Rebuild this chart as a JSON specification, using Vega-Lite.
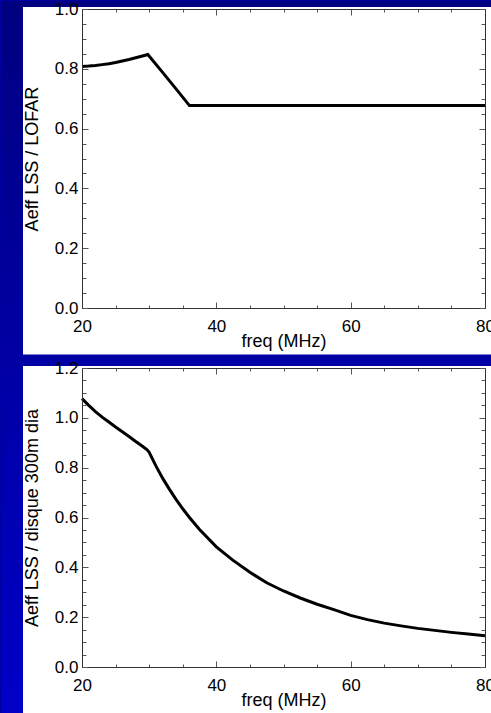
{
  "$schema": "https://vega.github.io/schema/vega-lite/v6.json",
  "padding": 0,
  "background": "#0000a0",
  "bounds": "flush",
  "spacing": 60,
  "datasets": {
    "top": [
      {"f": 20, "v": 0.808}, {"f": 21, "v": 0.809}, {"f": 22, "v": 0.811}, {"f": 23, "v": 0.814},
      {"f": 24, "v": 0.817}, {"f": 25, "v": 0.821}, {"f": 26, "v": 0.826}, {"f": 27, "v": 0.831},
      {"f": 28, "v": 0.837}, {"f": 29, "v": 0.843}, {"f": 29.8, "v": 0.848}, {"f": 32, "v": 0.788},
      {"f": 34, "v": 0.733}, {"f": 36, "v": 0.677}, {"f": 50, "v": 0.677}, {"f": 65, "v": 0.677},
      {"f": 80, "v": 0.677}
    ],
    "bottom": [
      {"f": 20, "v": 1.077}, {"f": 21, "v": 1.05}, {"f": 22, "v": 1.025}, {"f": 23, "v": 1.003},
      {"f": 24, "v": 0.983}, {"f": 25, "v": 0.963}, {"f": 26, "v": 0.944}, {"f": 27, "v": 0.925},
      {"f": 28, "v": 0.905}, {"f": 29, "v": 0.886}, {"f": 29.7, "v": 0.872}, {"f": 30, "v": 0.862},
      {"f": 31, "v": 0.807}, {"f": 32, "v": 0.758}, {"f": 33, "v": 0.714}, {"f": 34, "v": 0.673},
      {"f": 35, "v": 0.635}, {"f": 36, "v": 0.6}, {"f": 37.5, "v": 0.552}, {"f": 40, "v": 0.482},
      {"f": 42.5, "v": 0.428}, {"f": 45, "v": 0.38}, {"f": 47.5, "v": 0.338}, {"f": 50, "v": 0.305},
      {"f": 52.5, "v": 0.277}, {"f": 55, "v": 0.252}, {"f": 57.5, "v": 0.23}, {"f": 60, "v": 0.207},
      {"f": 62.5, "v": 0.19}, {"f": 65, "v": 0.176}, {"f": 67.5, "v": 0.165}, {"f": 70, "v": 0.155},
      {"f": 72.5, "v": 0.147}, {"f": 75, "v": 0.139}, {"f": 77.5, "v": 0.132}, {"f": 80, "v": 0.125}
    ]
  },
  "vconcat": [
    {
      "width": 403,
      "height": 299,
      "resolve": {"axis": {"x": "independent", "y": "independent"}},
      "layer": [
        {
          "data": {"values": [{}]},
          "mark": {"type": "rect", "stroke": null, "fill": {"gradient": "linear", "x1": 0, "y1": 0, "x2": 0, "y2": 1, "stops": [{"offset": 0, "color": "#000080"}, {"offset": 1, "color": "#0000c8"}]}},
          "encoding": {
            "x": {"datum": 7.94, "type": "quantitative", "axis": null},
            "x2": {"datum": 81.04},
            "y": {"datum": 1.02676, "type": "quantitative", "axis": null},
            "y2": {"datum": -1.3579}
          }
        },
        {
          "data": {"values": [{}]},
          "mark": {"type": "rect", "fill": "#ffffff", "stroke": null},
          "encoding": {
            "x": {"datum": 11.216, "type": "quantitative", "axis": null},
            "x2": {"datum": 81.04},
            "y": {"datum": 1.00669, "type": "quantitative", "axis": null},
            "y2": {"datum": -0.1555}
          }
        },
        {
          "data": {"name": "top"},
          "mark": {"type": "line", "color": "#000000", "strokeWidth": 3},
          "encoding": {
            "x": {"field": "f", "type": "quantitative", "sort": null,
              "scale": {"domain": [20, 80], "nice": false, "zero": false},
              "axis": {"orient": "bottom", "zindex": 1, "values": [20,25,30,35,40,45,50,55,60,65,70,75,80],
                "labelExpr": "datum.value % 20 === 0 ? datum.label : ''",
                "tickSize": {"condition": {"test": "datum.value % 20 === 0", "value": -6}, "value": -3},
                "labelPadding": 16, "labelFlush": false, "labelOverlap": false, "grid": false,
                "domainColor": "#333333", "tickColor": "#555555",
                "labelFont": "Liberation Sans", "labelFontSize": 17, "labelColor": "#000000",
                "title": "freq (MHz)", "titleFont": "Liberation Sans", "titleFontSize": 18, "titleFontWeight": "normal", "titleColor": "#000000", "titlePadding": -5}},
            "y": {"field": "v", "type": "quantitative",
              "scale": {"domain": [0, 1], "nice": false, "zero": false},
              "axis": {"orient": "left", "zindex": 1, "values": [0,0.05,0.1,0.15,0.2,0.25,0.3,0.35,0.4,0.45,0.5,0.55,0.6,0.65,0.7,0.75,0.8,0.85,0.9,0.95,1],
                "format": ".1f",
                "labelExpr": "abs(datum.value*5 - round(datum.value*5)) < 1e-6 ? datum.label : ''",
                "tickSize": {"condition": {"test": "abs(datum.value*5 - round(datum.value*5)) < 1e-6", "value": -6}, "value": -4},
                "labelPadding": 10, "labelFlush": false, "labelOverlap": false, "grid": false,
                "domainColor": "#333333", "tickColor": "#555555",
                "labelFont": "Liberation Sans", "labelFontSize": 17, "labelColor": "#000000",
                "title": "Aeff LSS / LOFAR", "titleFont": "Liberation Sans", "titleFontSize": 18, "titleFontWeight": "normal", "titleColor": "#000000", "titlePadding": 13}}
          }
        },
        {
          "data": {"name": "top"},
          "mark": {"type": "line", "strokeOpacity": 0},
          "encoding": {
            "x": {"field": "f", "type": "quantitative", "sort": null,
              "axis": {"orient": "top", "zindex": 1, "values": [20,25,30,35,40,45,50,55,60,65,70,75,80], "labels": false, "title": null,
                "tickSize": {"condition": {"test": "datum.value % 20 === 0", "value": -6}, "value": -3},
                "grid": false, "domainColor": "#333333", "tickColor": "#555555"}},
            "y": {"field": "v", "type": "quantitative",
              "axis": {"orient": "right", "zindex": 1, "values": [0,0.05,0.1,0.15,0.2,0.25,0.3,0.35,0.4,0.45,0.5,0.55,0.6,0.65,0.7,0.75,0.8,0.85,0.9,0.95,1], "labels": false, "title": null,
                "tickSize": {"condition": {"test": "abs(datum.value*5 - round(datum.value*5)) < 1e-6", "value": -6}, "value": -4},
                "grid": false, "domainColor": "#333333", "tickColor": "#555555"}}
          }
        }
      ]
    },
    {
      "width": 403,
      "height": 299,
      "resolve": {"axis": {"x": "independent", "y": "independent"}},
      "layer": [
        {
          "data": {"values": [{}]},
          "mark": {"type": "rect", "fill": "#ffffff", "stroke": null},
          "encoding": {
            "x": {"datum": 11.216, "type": "quantitative", "axis": null},
            "x2": {"datum": 81.04},
            "y": {"datum": 1.208, "type": "quantitative", "axis": null},
            "y2": {"datum": -0.1886}
          }
        },
        {
          "data": {"name": "bottom"},
          "mark": {"type": "line", "color": "#000000", "strokeWidth": 3},
          "encoding": {
            "x": {"field": "f", "type": "quantitative", "sort": null,
              "scale": {"domain": [20, 80], "nice": false, "zero": false},
              "axis": {"orient": "bottom", "zindex": 1, "values": [20,25,30,35,40,45,50,55,60,65,70,75,80],
                "labelExpr": "datum.value % 20 === 0 ? datum.label : ''",
                "tickSize": {"condition": {"test": "datum.value % 20 === 0", "value": -6}, "value": -3},
                "labelPadding": 16, "labelFlush": false, "labelOverlap": false, "grid": false,
                "domainColor": "#333333", "tickColor": "#555555",
                "labelFont": "Liberation Sans", "labelFontSize": 17, "labelColor": "#000000",
                "title": "freq (MHz)", "titleFont": "Liberation Sans", "titleFontSize": 18, "titleFontWeight": "normal", "titleColor": "#000000", "titlePadding": -5}},
            "y": {"field": "v", "type": "quantitative",
              "scale": {"domain": [0, 1.2], "nice": false, "zero": false},
              "axis": {"orient": "left", "zindex": 1, "values": [0,0.05,0.1,0.15,0.2,0.25,0.3,0.35,0.4,0.45,0.5,0.55,0.6,0.65,0.7,0.75,0.8,0.85,0.9,0.95,1,1.05,1.1,1.15,1.2],
                "format": ".1f",
                "labelExpr": "abs(datum.value*5 - round(datum.value*5)) < 1e-6 ? datum.label : ''",
                "tickSize": {"condition": {"test": "abs(datum.value*5 - round(datum.value*5)) < 1e-6", "value": -6}, "value": -4},
                "labelPadding": 10, "labelFlush": false, "labelOverlap": false, "grid": false,
                "domainColor": "#333333", "tickColor": "#555555",
                "labelFont": "Liberation Sans", "labelFontSize": 17, "labelColor": "#000000",
                "title": "Aeff LSS / disque 300m dia", "titleFont": "Liberation Sans", "titleFontSize": 18, "titleFontWeight": "normal", "titleColor": "#000000", "titlePadding": 13}}
          }
        },
        {
          "data": {"name": "bottom"},
          "mark": {"type": "line", "strokeOpacity": 0},
          "encoding": {
            "x": {"field": "f", "type": "quantitative", "sort": null,
              "axis": {"orient": "top", "zindex": 1, "values": [20,25,30,35,40,45,50,55,60,65,70,75,80], "labels": false, "title": null,
                "tickSize": {"condition": {"test": "datum.value % 20 === 0", "value": -6}, "value": -3},
                "grid": false, "domainColor": "#333333", "tickColor": "#555555"}},
            "y": {"field": "v", "type": "quantitative",
              "axis": {"orient": "right", "zindex": 1, "values": [0,0.05,0.1,0.15,0.2,0.25,0.3,0.35,0.4,0.45,0.5,0.55,0.6,0.65,0.7,0.75,0.8,0.85,0.9,0.95,1,1.05,1.1,1.15,1.2], "labels": false, "title": null,
                "tickSize": {"condition": {"test": "abs(datum.value*5 - round(datum.value*5)) < 1e-6", "value": -6}, "value": -4},
                "grid": false, "domainColor": "#333333", "tickColor": "#555555"}}
          }
        }
      ]
    }
  ],
  "config": {
    "view": {"stroke": null},
    "font": "Liberation Sans"
  }
}
